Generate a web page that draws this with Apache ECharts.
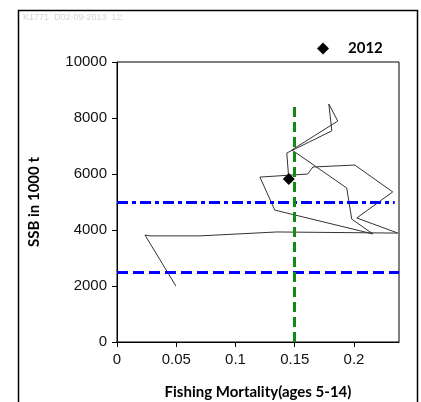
<!DOCTYPE html>
<html>
<head>
<meta charset="utf-8">
<script src="https://cdn.jsdelivr.net/npm/echarts@6/dist/echarts.min.js"></script>
<style>
html,body{margin:0;padding:0;background:#fff;}
#chart{width:421px;height:402px;}
</style>
</head>
<body>
<div id="chart"></div>
<script>
// Trajectory (fishing mortality vs SSB), final point = 2012
const fishingMortality = [0.0497,0.0236,0.0278,0.070,0.1349,0.237,0.2024,0.2327,0.2007,0.1653,0.161,0.1206,0.1332,0.2159,0.1981,0.1939,0.1476,0.1863,0.1788,0.1813,0.1433,0.145];
const ssb = [2000,3820,3790,3790,3930,3890,4430,5360,6320,6250,6000,5890,4710,3860,4390,5500,6860,7890,8500,7540,6750,5820];
const lastYear = '2012';
// Reference points
const fRef = 0.15;
const fRefTop = 8400;
const bPa = 5000;
const bPaEnd = 0.2344;
const bLim = 2500;
const xTicks = [0, 0.05, 0.1, 0.15, 0.2];
const yTicks = [0, 2000, 4000, 6000, 8000, 10000];
const xMax = 0.238;
const yMax = 10000;

const traj = fishingMortality.map((f, i) => [f, ssb[i]]);
const last = traj[traj.length - 1];

const chart = echarts.init(document.getElementById('chart'), null, {renderer: 'canvas'});
chart.setOption({
  animation: false,
  backgroundColor: '#fff',
  grid: {left: 117, right: 22, top: 62, bottom: 60, show: true, borderColor: '#000', borderWidth: 1, backgroundColor: 'transparent', outerBoundsMode: 'none', containLabel: false},
  legend: {
    data: [{name: lastYear, icon: 'diamond', itemStyle: {color: '#000', opacity: 1}}],
    left: 312, top: 36,
    itemWidth: 12, itemHeight: 12,
    textStyle: {fontFamily: 'Lato', fontWeight: 'bold', fontSize: 15, color: '#000', padding: [0, 0, 0, 14]}
  },
  xAxis: {
    type: 'value', min: 0, max: xMax, interval: 0.05,
    name: 'Fishing Mortality(ages 5-14)', nameLocation: 'middle', nameGap: 43,
    nameTextStyle: {fontFamily: 'Lato', fontWeight: 'bold', fontSize: 15, color: '#000'},
    axisLine: {show: true, lineStyle: {color: '#000', width: 1}},
    axisTick: {show: true, length: 5, lineStyle: {color: '#000'}, customValues: xTicks},
    axisLabel: {fontFamily: 'Liberation Sans', fontSize: 15, color: '#111', margin: 10, customValues: xTicks,
      formatter: v => String(+(+v).toFixed(2))},
    splitLine: {show: false}
  },
  yAxis: {
    type: 'value', min: 0, max: yMax, interval: 2000,
    name: 'SSB in 1000 t', nameLocation: 'middle', nameGap: 75, nameRotate: 90,
    nameTextStyle: {fontFamily: 'Lato', fontWeight: 'bold', fontSize: 15, color: '#000'},
    axisLine: {show: true, lineStyle: {color: '#000', width: 1}},
    axisTick: {show: true, length: 5, lineStyle: {color: '#000'}},
    axisLabel: {fontFamily: 'Liberation Sans', fontSize: 15, color: '#111', margin: 10,
      formatter: v => String(Math.round(v))},
    splitLine: {show: false}
  },
  series: [
    {
      type: 'line', name: 'trajectory', data: traj, showSymbol: false, symbol: 'none',
      lineStyle: {color: '#333', width: 1}, z: 2, silent: true
    },
    {
      type: 'line', name: 'refs', data: [], z: 3, silent: true,
      markLine: {
        silent: true, symbol: 'none', animation: false, label: {show: false},
        data: [
          [{coord: [0, bLim], lineStyle: {color: '#0000ff', width: 3, type: [11, 5]}}, {coord: [xMax, bLim]}],
          [{coord: [0, bPa], lineStyle: {color: '#0000ff', width: 3, type: [11, 4, 4, 4]}}, {coord: [bPaEnd, bPa]}],
          [{coord: [fRef, 0], lineStyle: {color: '#138a13', width: 3, type: [10, 5]}}, {coord: [fRef, fRefTop]}]
        ]
      }
    },
    {
      type: 'scatter', name: lastYear, data: [last], symbol: 'diamond', symbolSize: 12,
      itemStyle: {color: '#000', opacity: 1}, z: 4
    }
  ],
  graphic: [
    {type: 'rect', shape: {x: 18.5, y: 10.5, width: 399, height: 400}, style: {fill: 'none', stroke: '#000', lineWidth: 1.5}, silent: true},
    {type: 'text', left: 23, top: 13, style: {text: 'K1771  D02-09-2013  12:', fontSize: 9, fontFamily: 'Liberation Sans', fill: '#d6d6d6'}}
  ]
});
</script>
</body>
</html>
